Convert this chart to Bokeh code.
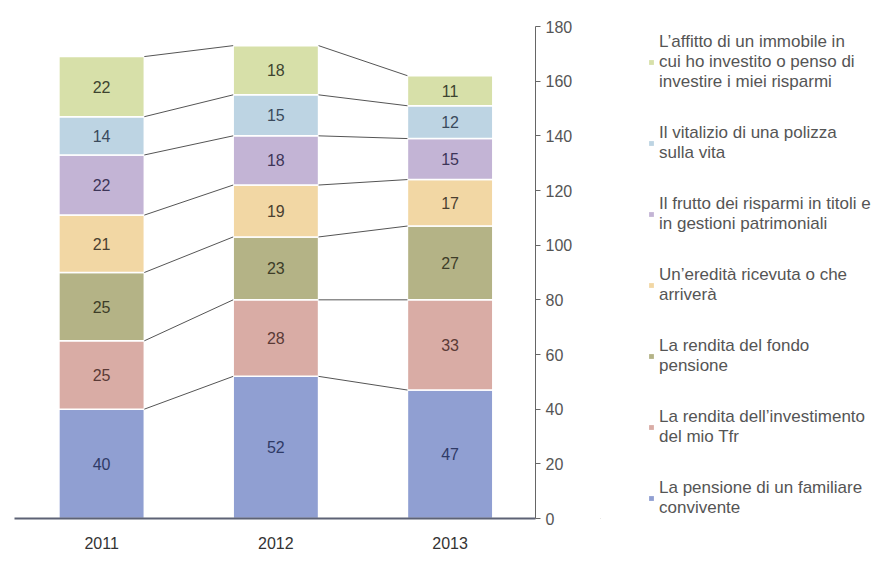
import numpy as np
from bokeh.plotting import figure
from bokeh.layouts import row
from bokeh.models import (Legend, LegendItem, FixedTicker, ColumnDataSource, Range1d)
from bokeh.core.properties import value
from bokeh.embed import file_html
from bokeh.resources import INLINE

years = ["2011", "2012", "2013"]
pensione_familiare = [40, 52, 47]
rendita_tfr = [25, 28, 33]
fondo_pensione = [25, 23, 27]
eredita = [21, 19, 17]
risparmi_titoli = [22, 18, 15]
polizza_vita = [14, 15, 12]
affitto_immobile = [22, 18, 11]
y_ticks = [0, 20, 40, 60, 80, 100, 120, 140, 160, 180]

series = [pensione_familiare, rendita_tfr, fondo_pensione, eredita,
          risparmi_titoli, polizza_vita, affitto_immobile]
labels = [
    "La pensione di un familiare\nconvivente",
    "La rendita dell’investimento\ndel mio Tfr",
    "La rendita del fondo\npensione",
    "Un’eredità ricevuta o che\narriverà",
    "Il frutto dei risparmi in titoli e\nin gestioni patrimoniali",
    "Il vitalizio di una polizza\nsulla vita",
    "L’affitto di un immobile in\ncui ho investito o penso di\ninvestire i miei risparmi",
]
colors = ["#909fd2", "#d9aca5", "#b4b386", "#f2d7a4", "#c3b4d5", "#bdd4e3", "#d7e0a9"]
text_colors = ["#2f3a66", "#5a3a36", "#3d3d28", "#4a4030", "#3d3558", "#3a4a5c", "#3d4430"]

FONT = "Liberation Sans"
bar_w = 0.49
x = np.arange(len(years))

p = figure(width=600, height=575,
           min_border_left=14, min_border_top=26, min_border_bottom=57,
           min_border_right=65,
           x_range=Range1d(-0.5, 2.49), y_range=Range1d(0, 180),
           y_axis_location="right", output_backend="svg", toolbar_location=None)
p.outline_line_color = None
p.xgrid.visible = False
p.ygrid.visible = False

vals = np.array(series, dtype=float)
tops = np.cumsum(vals, axis=0)
bottoms = tops - vals

for k in range(len(series)):
    src = ColumnDataSource(dict(x=x, top=tops[k], bottom=bottoms[k],
                                mid=(tops[k] + bottoms[k]) / 2,
                                lab=[str(v) for v in series[k]]))
    p.vbar(x="x", top="top", bottom="bottom", width=bar_w, source=src,
           fill_color=colors[k], line_color="white", line_width=1.5)
    p.text(x="x", y="mid", text="lab", source=src, text_align="center",
           text_baseline="middle", text_font=value(FONT), text_font_size="16px",
           text_color=text_colors[k])

# connector lines between consecutive bars at each stack boundary
x0s, y0s, x1s, y1s = [], [], [], []
for k in range(len(series)):
    for i in range(len(years) - 1):
        x0s.append(x[i] + bar_w / 2)
        y0s.append(tops[k][i])
        x1s.append(x[i + 1] - bar_w / 2)
        y1s.append(tops[k][i + 1])
p.segment(x0=x0s, y0=y0s, x1=x1s, y1=y1s, line_color="#555555", line_width=1)

# axes
p.xaxis.ticker = FixedTicker(ticks=list(x))
p.xaxis.major_label_overrides = {int(i): y for i, y in zip(x, years)}
p.xaxis.major_tick_line_color = None
p.xaxis.minor_tick_line_color = None
p.xaxis.axis_line_color = "#5d6275"
p.xaxis.axis_line_width = 2
p.xaxis.major_label_text_font = FONT
p.xaxis.major_label_text_font_size = "16px"
p.xaxis.major_label_text_color = "#333333"
p.xaxis.major_label_standoff = 12

p.yaxis.ticker = FixedTicker(ticks=y_ticks)
p.yaxis.minor_tick_line_color = None
p.yaxis.major_tick_in = 0
p.yaxis.major_tick_out = 5
p.yaxis.axis_line_color = "#666666"
p.yaxis.major_tick_line_color = "#666666"
p.yaxis.major_label_text_font = FONT
p.yaxis.major_label_text_font_size = "16px"
p.yaxis.major_label_text_color = "#555555"
p.yaxis.major_label_standoff = 5

# legend panel (separate figure to the right); legend swatches use
# proxy renderers placed outside the visible range of this panel
pl = figure(width=284, height=575, min_border=0,
            x_range=Range1d(0, 1), y_range=Range1d(0, 1),
            x_axis_location=None, y_axis_location=None,
            output_backend="svg", toolbar_location=None)
pl.outline_line_color = None
pl.xgrid.visible = False
pl.ygrid.visible = False
items = []
for k in range(len(series)):
    proxy = ColumnDataSource(dict(x=[-5.0], top=[-5.0], bottom=[-6.0]))
    r = pl.vbar(x="x", top="top", bottom="bottom", width=0.1, source=proxy,
                fill_color=colors[k], line_color=None)
    items.append(LegendItem(label=labels[k], renderers=[r]))

legend = Legend(items=list(reversed(items)), location=(48, 0),
                border_line_color=None, background_fill_alpha=0,
                label_text_font=FONT, label_text_font_size="17px",
                label_text_color="#555555", label_text_line_height=1.2,
                glyph_width=6, glyph_height=6, label_height=41, spacing=30,
                label_standoff=5, padding=0, margin=0)
pl.add_layout(legend, "center")

layout = row(p, pl, spacing=0)
open("out.html", "w").write(file_html(layout, INLINE))
